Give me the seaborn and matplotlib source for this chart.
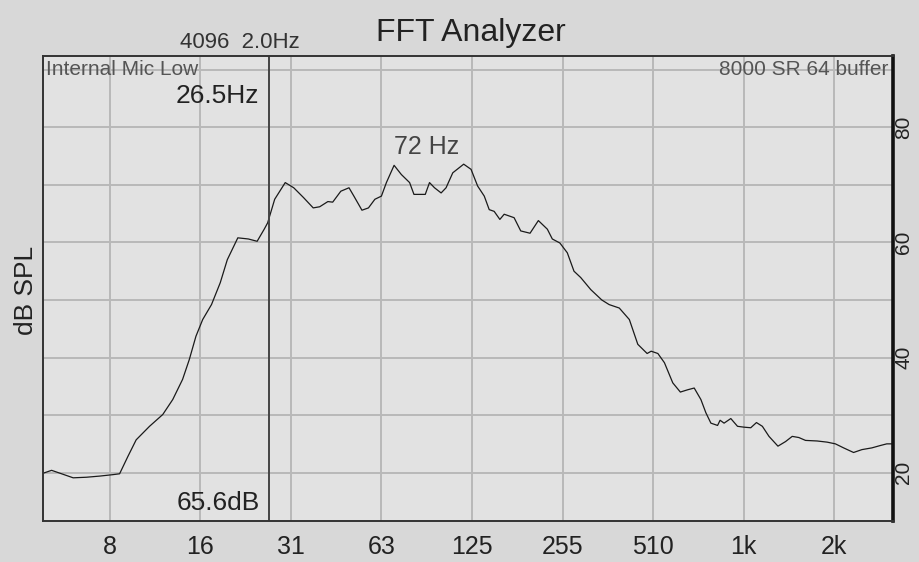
import pandas as pd
import matplotlib
matplotlib.use("Agg")
import matplotlib.pyplot as plt
import seaborn as sns

# Datos (frecuencia en Hz, nivel en dB SPL)
freq_hz = [4.70, 5.01, 5.34, 5.91, 6.54, 7.24, 8.01, 8.43, 8.98, 9.57,
           10.6, 11.73, 12.66, 13.65, 14.37, 15.12, 15.92, 17.03, 18.21, 19.22,
           20.83, 22.58, 24.15, 25.49, 26.17, 27.62, 29.94, 31.95, 34.43, 37.09,
           38.98, 41.49, 43.05, 45.81, 48.77, 50.63, 53.85, 56.6, 59.45, 62.5,
           64.93, 68.87, 72.8, 77.55, 80.17, 87.42, 90.31, 93.83, 98.69, 102.5,
           107.9, 117.3, 124.1, 130.5, 137.3, 142.6, 148.1, 154.7, 159.9, 172.5,
           181.5, 194.9, 207.7, 222.5, 231.1, 244.9, 259.2, 272.8, 287.2, 310.2,
           337.5, 357.0, 385.8, 416.7, 444.5, 477.4, 492.4, 518.3, 545.0, 580.9,
           615.6, 651.2, 684.5, 720.4, 748.4, 777.6, 818.4, 834.4, 860.2, 905.6,
           953.3, 1002, 1055, 1102, 1153, 1213, 1299, 1377, 1449, 1524,
           1604, 1753, 1892, 2016, 2147, 2317, 2470, 2665, 2838, 2987, 3159]
level_db = [19.9, 20.4, 19.9, 19.1, 19.2, 19.4, 19.65, 19.8, 22.8, 25.7,
            28.05, 30.1, 32.7, 36.2, 39.65, 43.7, 46.6, 49.2, 53.0, 57.0,
            60.8, 60.6, 60.2, 62.3, 63.4, 67.5, 70.4, 69.5, 67.8, 66.0,
            66.2, 67.1, 67.0, 68.9, 69.5, 68.05, 65.6, 66.0, 67.5, 68.05,
            70.4, 73.4, 71.8, 70.4, 68.35, 68.35, 70.4, 69.5, 68.6, 69.5,
            72.1, 73.6, 72.7, 69.8, 68.05, 65.7, 65.4, 64.0, 64.9, 64.3,
            62.0, 61.6, 63.8, 62.3, 60.6, 59.9, 58.2, 55.0, 53.9, 51.8,
            50.0, 49.2, 48.6, 46.6, 42.3, 40.7, 41.1, 40.7, 39.1, 35.6,
            34.0, 34.4, 34.7, 32.7, 30.4, 28.6, 28.2, 29.1, 28.6, 29.4,
            28.05, 27.9, 27.8, 28.7, 28.05, 26.3, 24.6, 25.4, 26.3, 26.1,
            25.6, 25.5, 25.3, 25.0, 24.3, 23.5, 24.0, 24.3, 24.7, 25.0, 25.0]

tick_hz = [7.8125, 15.625, 31.25, 62.5, 125, 250, 500, 1000, 2000]
tick_labels = ["8", "16", "31", "63", "125", "255", "510", "1k", "2k"]
db_major = [20, 40, 60, 80]
db_minor = [30, 50, 70, 90]

cursor_hz = 26.5
peak_hz = 72

df = pd.DataFrame({"freq": freq_hz, "db": level_db})

sns.set_theme(style="whitegrid")
plt.rcParams["font.family"] = ["Liberation Sans", "DejaVu Sans"]

fig = plt.figure(figsize=(9.2, 5.62), dpi=100, facecolor="#d8d8d8")
ax = fig.add_axes([0.0467, 0.073, 0.924, 0.8274])
ax.set_facecolor("#e2e2e2")

sns.lineplot(data=df, x="freq", y="db", ax=ax, color="#1a1a1a", linewidth=0.9)

ax.set_xscale("log", base=2)
ax.set_xlim(4.69, 3134)
ax.set_ylim(11.6, 92.4)

ax.set_xticks(tick_hz)
ax.set_xticklabels(tick_labels)
ax.minorticks_off()
ax.set_yticks(db_major)
ax.set_yticks(db_minor, minor=True)
ax.yaxis.tick_right()
ax.tick_params(axis="x", labelsize=18, colors="#222222", length=0, pad=10)
ax.tick_params(axis="y", which="both", labelsize=15, colors="#222222",
               length=0, pad=1, labelrotation=90)
for lab in ax.get_yticklabels():
    lab.set_va("center")

ax.grid(True, which="both", color="#b8b8b8", linewidth=1.4)
ax.set_xlabel("")
ax.set_ylabel("")

for side in ["left", "bottom", "top"]:
    ax.spines[side].set_color("#333333")
    ax.spines[side].set_linewidth(1.4)
ax.spines["right"].set_color("#111111")
ax.spines["right"].set_linewidth(2.6)

# Cursor
ax.axvline(cursor_hz, color="#444444", linewidth=1.4)
ax.annotate("26.5Hz", xy=(cursor_hz, 1), xycoords=("data", "axes fraction"),
            xytext=(-7, -29), textcoords="offset points",
            ha="right", va="center", fontsize=19, color="#222222")
ax.annotate("65.6dB", xy=(cursor_hz, 0), xycoords=("data", "axes fraction"),
            xytext=(-7, 13), textcoords="offset points",
            ha="right", va="center", fontsize=19, color="#222222")
ax.text(88, 76.5, f"{peak_hz} Hz", ha="center", va="center",
        fontsize=18, color="#444444")

ax.text(0.003, 0.97, "Internal Mic Low", transform=ax.transAxes,
        ha="left", va="center", fontsize=15, color="#555555")
ax.text(0.994, 0.97, "8000 SR 64 buffer", transform=ax.transAxes,
        ha="right", va="center", fontsize=15, color="#555555")

fig.text(0.512, 0.941, "FFT Analyzer", ha="center", va="center",
         fontsize=23, color="#222222")
fig.text(0.261, 0.925, "4096  2.0Hz", ha="center", va="center",
         fontsize=16, color="#333333")
fig.text(0.028, 0.484, "dB SPL", ha="center", va="center", rotation=90,
         fontsize=19, color="#222222")

fig.savefig("out.png", dpi=100, facecolor=fig.get_facecolor())
